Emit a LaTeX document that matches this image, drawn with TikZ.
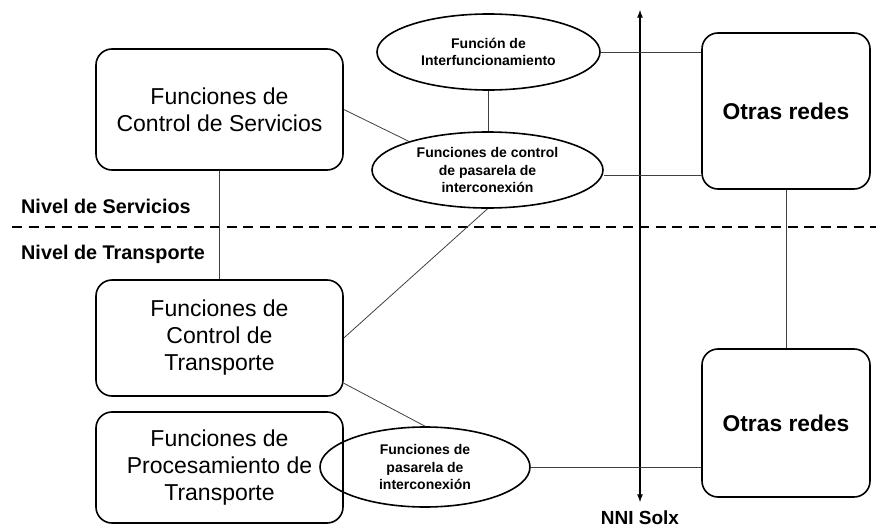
\documentclass[tikz,border=0pt]{standalone}
\usepackage{fontspec}
\setmainfont{Liberation Sans}
\usetikzlibrary{arrows,shapes.geometric}

\begin{document}
\begin{tikzpicture}[x=1pt,y=-1pt,
    caja/.style={draw,line width=1.6pt,rounded corners=16pt,align=center,font=\fontsize{23}{27}\selectfont},
    redes/.style={caja,font=\bfseries\fontsize{22.8}{27}\selectfont},
    elipse/.style={draw,ellipse,line width=1.6pt,align=center,inner sep=0pt,font=\bfseries\fontsize{14}{17.5}\selectfont},
    nivel/.style={anchor=base west,inner sep=0pt,font=\bfseries\fontsize{19.8}{22}\selectfont},
    linea/.style={line width=0.8pt,black!75}]
            \useasboundingbox (0,0) rectangle (876,527);
            %cajas
            \node[caja,minimum width=247,minimum height=121] (cs) at (219.5,109.5) {Funciones de\\Control de Servicios};
            \node[caja,minimum width=247,minimum height=116] (ct) at (219.5,338) {Funciones de\\Control de\\Transporte};
            \node[caja,minimum width=247,minimum height=111] (pt) at (219.5,467.5) {Funciones de\\Procesamiento de\\Transporte};
            \node[redes,minimum width=168,minimum height=156] (otras1) at (786,111) {Otras redes};
            \node[redes,minimum width=168,minimum height=148] (otras2) at (786,423) {Otras redes};
            %elipses
            \node[elipse,minimum width=223,minimum height=76] (inter) at (488.5,52) {Función de\\Interfuncionamiento};
            \node[elipse,minimum width=231,minimum height=76] (ctrlpas) at (487.5,170) {Funciones de control\\de pasarela de\\interconexión};
            \node[elipse,minimum width=210,minimum height=80] (pas) at (425,467) {Funciones de\\pasarela de\\interconexión};
            %niveles
            \draw[line width=2pt,dash pattern=on 10pt off 6.5pt] (12,227) -- (876,227);
            \node[nivel] (serv) at (21,213) {Nivel de Servicios};
            \node[nivel] (transp) at (21,259) {Nivel de Transporte};
            %NNI
            \node[anchor=base,font=\bfseries\fontsize{19}{22}\selectfont,inner sep=0pt] (nni) at (640,524) {NNI Solx};
            \coordinate (nnitop) at (640,10);
            \coordinate (nnibot) at (640,502);
            \draw[<->,>=latex,line width=1.6pt] (nnitop) -- (nnibot);
            %conexiones
            \draw[linea] (cs.south) -- (ct.north);
            \draw[linea] (cs.east) -- (ctrlpas.160);
            \draw[linea] (inter.south) -- (inter.south |- ctrlpas.north);
            \draw[linea] (ctrlpas.south) -- (ct.east);
            \draw[linea] (inter.east) -- (inter.east -| otras1.west);
            \draw[linea] ([yshift=-5pt]ctrlpas.east) -- ([yshift=-5pt]ctrlpas.east -| otras1.west);
            \draw[linea] (otras1.south) -- (otras2.north);
            \draw[linea] (ct.-20) -- (pas.north);
            \draw[linea] (pas.east) -- (pas.east -| otras2.west);
        \end{tikzpicture}
\end{document}
